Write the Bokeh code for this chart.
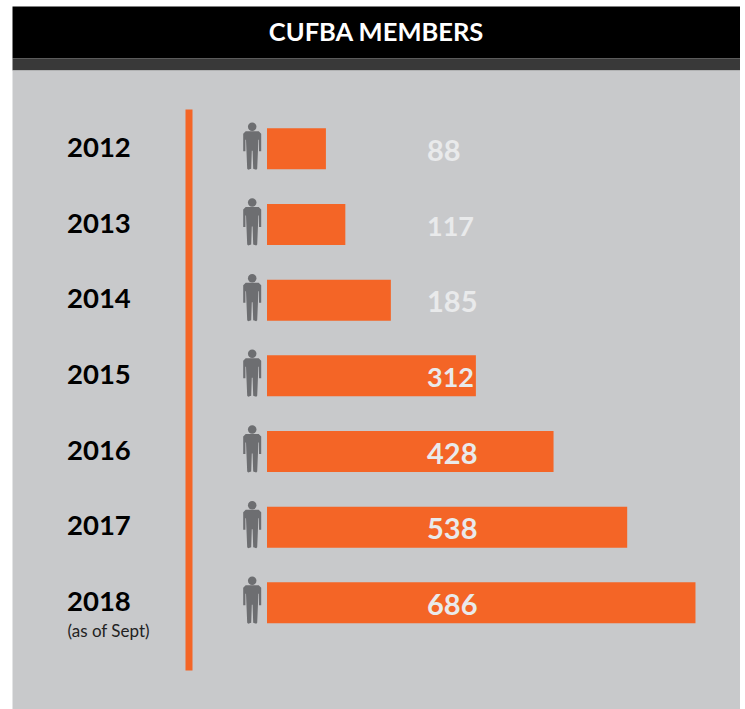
from bokeh.plotting import figure
from bokeh.models import Range1d, ColumnDataSource
from bokeh.core.properties import value
from bokeh.embed import file_html
from bokeh.resources import INLINE

# ---- data
years = ["2012", "2013", "2014", "2015", "2016", "2017", "2018"]
members = [88, 117, 185, 312, 428, 538, 686]
# drawn bar length (the last bar in the source is cut short of its true scale)
bar_lengths = [88, 117, 185, 312, 428, 538, 640]
title = "CUFBA MEMBERS"
note = "(as of Sept)"

ORANGE = "#f46526"
GREY = "#c8c9cb"
LIGHT = "#e9eaeb"
ICON = "#6d6e71"
FONT = value("Lato")

W, H = 740, 709

# x in member units: 0 at the bars' left edge; y in row units
px_per_member = 0.6695
x0 = 266.5
row0 = 148.3
row_step = 75.67

p = figure(width=W, height=H, output_backend="svg", toolbar_location=None,
           x_range=Range1d(-x0 / px_per_member, (W - x0) / px_per_member),
           y_range=Range1d((H - row0) / row_step, -row0 / row_step),
           min_border=0, outline_line_color=None,
           background_fill_color="white", border_fill_color="white")
p.xaxis.visible = False
p.yaxis.visible = False
p.grid.visible = False

# pixel ranges for panel furniture
p.extra_x_ranges = {"px": Range1d(0, W)}
p.extra_y_ranges = {"py": Range1d(H, 0)}
kw = dict(x_range_name="px", y_range_name="py")

def box(l, r, t, b, color):
    p.quad(left=[l], right=[r], top=[t], bottom=[b], fill_color=color, line_color=None, **kw)

box(12, 740, 6, 58, "#000000")
box(12, 740, 58, 70, "#393939")
box(12, 740, 70, 709, GREY)
box(185, 192, 109, 670, ORANGE)

rows = list(range(len(years)))
src = ColumnDataSource(dict(y=rows, right=bar_lengths))
p.hbar(y="y", left=0, right="right", height=41 / row_step, source=src,
       fill_color=ORANGE, line_color=None)

# person icon outline: offsets in px from the icon's centre x / row centre
icon_dx = (-6.5, 6.5, 9, 9, 6.8, 6.8, 6.2, 5, 4, 1, 0.4, -0.4, -1, -4, -5, -6.2, -6.8, -6.8, -9, -9)
icon_dy = (-16.5, -16.5, -14, 3.5, 3.5, -8, -8, 21, 22, 21, 3, 3, 21, 22, 21, -8, -8, 3.5, 3.5, -14)
icon_cx = 251.7
for i in rows:
    cy = row0 + row_step * i - 1
    p.scatter(x=[icon_cx], y=[cy - 21], size=8.5, marker="circle", fill_color=ICON, line_color=None, **kw)
    p.patch([icon_cx + d for d in icon_dx], [cy + d for d in icon_dy],
            fill_color=ICON, line_color=None, **kw)

# year labels
p.text(x=[66.5] * len(years), y=[147 + row_step * i for i in rows], text=years, text_font=FONT,
       text_font_size="27.5px", text_font_style="bold", text_color="#000000",
       text_align="left", text_baseline="middle", **kw)
p.text(x=[67], y=[630], text=[note], text_font=FONT, text_font_size="17px",
       text_color="#222222", text_align="left", text_baseline="middle", **kw)

# value labels (those with narrow ones in the source set a little smaller)
sizes = ["27px" if m in (117, 312) else "29px" for m in members]
p.text(x=[426.5] * len(years), y=[150 + row_step * i for i in rows], text=[str(m) for m in members],
       text_font=FONT, text_font_size=sizes, text_font_style="bold",
       text_color=LIGHT, text_align="left", text_baseline="middle", **kw)

# title
p.text(x=[376], y=[30], text=[title], text_font=FONT, text_font_size="25.5px", text_font_style="bold",
       text_color="#ffffff", text_align="center", text_baseline="middle", **kw)

open("out.html", "w").write(file_html(p, INLINE))
